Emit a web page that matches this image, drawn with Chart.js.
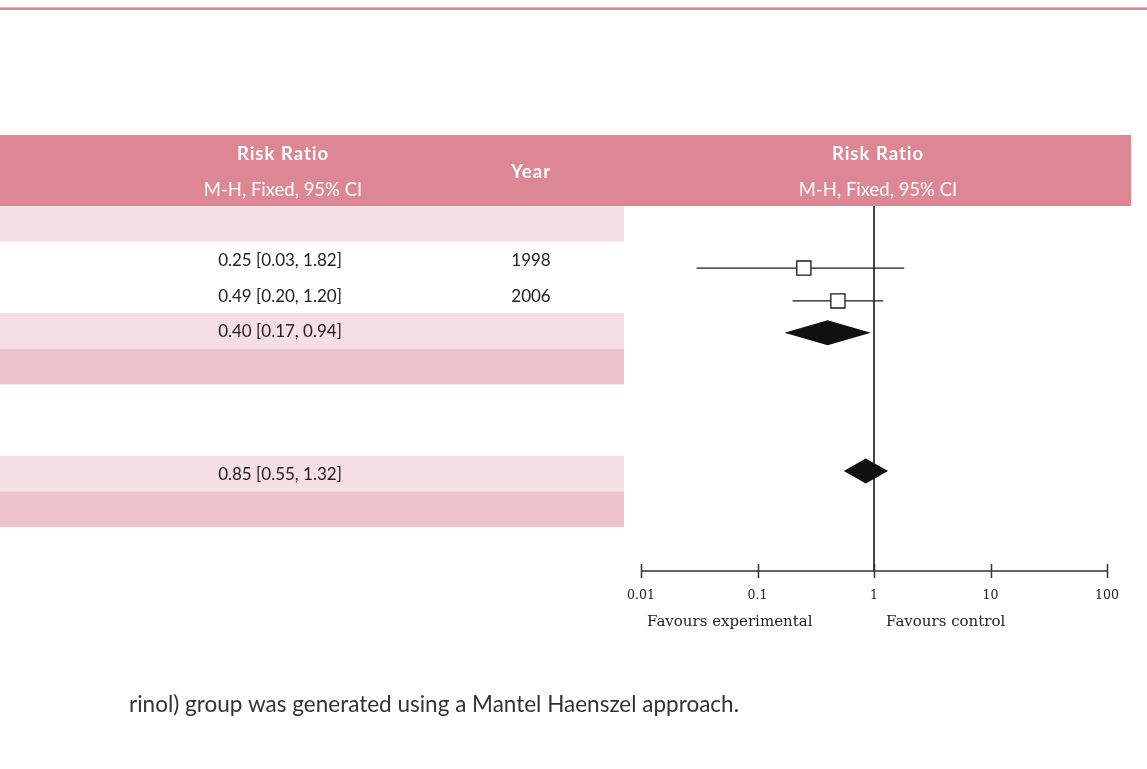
<!DOCTYPE html>
<html>
<head>
<meta charset="utf-8">
<script src="https://cdn.jsdelivr.net/npm/chart.js@4/dist/chart.umd.min.js"></script>
<style>
  html, body { margin: 0; padding: 0; background: #fff; }
  canvas { display: block; }
</style>
</head>
<body>
<canvas id="forest" width="1147" height="769"></canvas>
<script>
// forest plot data (risk ratios, M-H fixed, 95% CI)
const rowKinds = ['study', 'study', 'pooled', 'pooled'];
const years = ['1998', '2006', '', ''];
const estimates = [0.25, 0.49, 0.40, 0.85];
const lowerCI = [0.03, 0.20, 0.17, 0.55];
const upperCI = [1.82, 1.20, 0.94, 1.32];
// row index (in table rows) of each entry and of the marker drawn for it
const textRows = [1.5, 2.5, 3.5, 7.5];
const markerRows = [1.74, 2.66, 3.55, 7.43];
const lightRows = [0, 3, 7];
const darkRows = [4, 8];
const tickValues = [0.01, 0.1, 1, 10, 100];
const tickLabels = ['0.01', '0.1', '1', '10', '100'];

const ROWS = 10.23;
const sansFont = 'Lato, "Open Sans", sans-serif';
const serifFont = '"DejaVu Serif", serif';

const ciText = (i) => estimates[i].toFixed(2) + ' [' + lowerCI[i].toFixed(2) + ', ' + upperCI[i].toFixed(2) + ']';

const ciDatasets = estimates.map((e, i) => ({
  type: 'line',
  data: rowKinds[i] === 'study' ? [{ x: lowerCI[i], y: markerRows[i] }, { x: upperCI[i], y: markerRows[i] }] : [],
  borderColor: '#1a1a1a',
  borderWidth: 1.3,
  pointRadius: 0,
  order: 2
}));

const squareData = estimates
  .map((e, i) => ({ x: e, y: markerRows[i], kind: rowKinds[i] }))
  .filter(d => d.kind === 'study');

// table, header, axis and diamonds drawn with the chart's scales
const tablePlugin = {
  id: 'tablePlugin',
  beforeDraw(chart) {
    const { ctx, chartArea, scales } = chart;
    const y = scales.y;
    const rowH = y.getPixelForValue(1) - y.getPixelForValue(0);
    ctx.save();
    // top rule
    ctx.fillStyle = '#eab6bf';
    ctx.fillRect(0, 7, 1147, 1);
    ctx.fillStyle = '#dc8795';
    ctx.fillRect(0, 8, 1147, 2);
    // header band
    ctx.fillStyle = '#dd8795';
    ctx.fillRect(0, 135, 1131, chartArea.top - 135);
    // row bands
    ctx.fillStyle = '#f5dfe2';
    lightRows.forEach(r => ctx.fillRect(0, y.getPixelForValue(r), 624, rowH));
    ctx.fillStyle = '#eec3cb';
    darkRows.forEach(r => ctx.fillRect(0, y.getPixelForValue(r), 624, rowH));

    // header text
    ctx.fillStyle = '#ffffff';
    ctx.textAlign = 'center';
    ctx.textBaseline = 'middle';
    ctx.font = 'bold 18.5px ' + sansFont;
    ctx.letterSpacing = '1px';
    ctx.fillText('Risk Ratio', 283, 154);
    ctx.fillText('Year', 531, 172);
    ctx.fillText('Risk Ratio', 878, 154);
    ctx.letterSpacing = '0px';
    ctx.font = '18.5px ' + sansFont;
    ctx.fillText('M-H, Fixed, 95% CI', 283, 190);
    ctx.fillText('M-H, Fixed, 95% CI', 878, 190);

    // row text
    ctx.fillStyle = '#222';
    ctx.font = '17px ' + sansFont;
    estimates.forEach((e, i) => {
      const py = y.getPixelForValue(textRows[i]) + 1;
      ctx.fillText(ciText(i), 280, py);
      if (years[i]) ctx.fillText(years[i], 531, py);
    });

    // footer note
    ctx.textAlign = 'left';
    ctx.fillStyle = '#333';
    ctx.font = '22.5px ' + sansFont;
    ctx.fillText('rinol) group was generated using a Mantel Haenszel approach.', 129, 705);
    ctx.restore();
  },
  beforeDatasetsDraw(chart) {
    const { ctx, chartArea, scales } = chart;
    const x = scales.x;
    const x1 = Math.round(x.getPixelForValue(1));
    ctx.save();
    ctx.strokeStyle = '#444';
    ctx.lineWidth = 2;
    ctx.beginPath();
    ctx.moveTo(x1, chartArea.top);
    ctx.lineTo(x1, chartArea.bottom);
    ctx.stroke();
    // x axis line and ticks
    ctx.strokeStyle = '#333';
    ctx.lineWidth = 1.5;
    ctx.beginPath();
    ctx.moveTo(x.getPixelForValue(tickValues[0]), chartArea.bottom);
    ctx.lineTo(x.getPixelForValue(tickValues[tickValues.length - 1]), chartArea.bottom);
    tickValues.forEach(v => {
      const px = Math.round(x.getPixelForValue(v)) + 0.5;
      ctx.moveTo(px, chartArea.bottom - 7);
      ctx.lineTo(px, chartArea.bottom + 7);
    });
    ctx.stroke();
    // favours labels
    ctx.fillStyle = '#222';
    ctx.font = '15px ' + serifFont;
    ctx.textAlign = 'left';
    ctx.textBaseline = 'middle';
    ctx.fillText('Favours experimental', x.getPixelForValue(0.01) + 6, 622);
    ctx.fillText('Favours control', x.getPixelForValue(1) + 12, 622);
    ctx.restore();
  },
  afterDatasetsDraw(chart) {
    const { ctx, scales } = chart;
    const x = scales.x, y = scales.y;
    ctx.save();
    ctx.fillStyle = '#111';
    estimates.forEach((e, i) => {
      if (rowKinds[i] !== 'pooled') return;
      const py = y.getPixelForValue(markerRows[i]);
      ctx.beginPath();
      ctx.moveTo(x.getPixelForValue(lowerCI[i]), py);
      ctx.lineTo(x.getPixelForValue(e), py - 12.5);
      ctx.lineTo(x.getPixelForValue(upperCI[i]), py);
      ctx.lineTo(x.getPixelForValue(e), py + 12.5);
      ctx.closePath();
      ctx.fill();
    });
    ctx.restore();
  }
};

new Chart(document.getElementById('forest'), {
  type: 'scatter',
  data: {
    datasets: [
      {
        data: squareData,
        pointStyle: 'rect',
        pointRadius: 10,
        pointHoverRadius: 10,
        backgroundColor: '#ffffff',
        borderColor: '#1a1a1a',
        borderWidth: 1.3,
        order: 0
      },
      ...ciDatasets
    ]
  },
  options: {
    responsive: false,
    animation: false,
    events: [],
    layout: { padding: { left: 641, right: 40, top: 206, bottom: 158 } },
    plugins: { legend: { display: false }, tooltip: { enabled: false } },
    scales: {
      x: {
        type: 'logarithmic',
        min: 0.01,
        max: 100,
        grid: { display: false, drawTicks: false },
        border: { display: false },
        afterBuildTicks: (scale) => { scale.ticks = tickValues.map(v => ({ value: v })); },
        afterFit: (scale) => { scale.height = 40; },
        ticks: {
          padding: 17,
          maxRotation: 0,
          autoSkip: false,
          color: '#222',
          font: { family: serifFont, size: 12.5 },
          callback: (v) => tickLabels[tickValues.indexOf(v)] ?? ''
        }
      },
      y: {
        display: false,
        reverse: true,
        min: 0,
        max: ROWS
      }
    }
  },
  plugins: [tablePlugin]
});
</script>
</body>
</html>
